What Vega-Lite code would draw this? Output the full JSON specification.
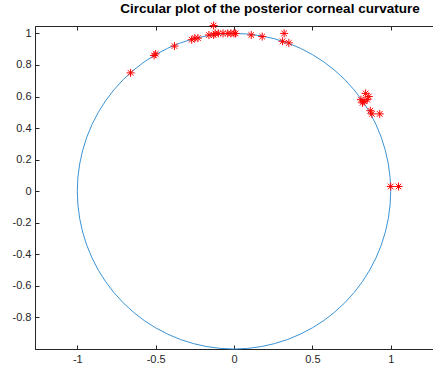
{
  "$schema": "https://vega.github.io/schema/vega-lite/v6.json",
  "autosize": {"type": "none"},
  "padding": {"left": 35, "top": 26, "right": 0, "bottom": 21},
  "width": 398,
  "height": 323,
  "background": "white",
  "title": {
    "text": "Circular plot of the posterior corneal curvature",
    "font": "Liberation Sans",
    "fontSize": 13.5,
    "fontWeight": "bold",
    "color": "#000000",
    "anchor": "middle",
    "dx": 36,
    "offset": 4
  },
  "config": {
    "view": {"stroke": "#262626", "strokeWidth": 1},
    "axis": {
      "labelFont": "Liberation Sans",
      "labelFontSize": 11,
      "labelColor": "#262626",
      "domainColor": "#262626",
      "tickColor": "#262626",
      "labelOverlap": false,
      "labelFlush": false,
      "grid": false,
      "title": null
    }
  },
  "datasets": {
    "circle": [
      {"i": 0, "x": 1, "y": 0}, {"i": 1, "x": 0.9962, "y": 0.0872}, {"i": 2, "x": 0.9848, "y": 0.1736},
      {"i": 3, "x": 0.9659, "y": 0.2588}, {"i": 4, "x": 0.9397, "y": 0.342}, {"i": 5, "x": 0.9063, "y": 0.4226},
      {"i": 6, "x": 0.866, "y": 0.5}, {"i": 7, "x": 0.8192, "y": 0.5736}, {"i": 8, "x": 0.766, "y": 0.6428},
      {"i": 9, "x": 0.7071, "y": 0.7071}, {"i": 10, "x": 0.6428, "y": 0.766}, {"i": 11, "x": 0.5736, "y": 0.8192},
      {"i": 12, "x": 0.5, "y": 0.866}, {"i": 13, "x": 0.4226, "y": 0.9063}, {"i": 14, "x": 0.342, "y": 0.9397},
      {"i": 15, "x": 0.2588, "y": 0.9659}, {"i": 16, "x": 0.1736, "y": 0.9848}, {"i": 17, "x": 0.0872, "y": 0.9962},
      {"i": 18, "x": 0, "y": 1}, {"i": 19, "x": -0.0872, "y": 0.9962}, {"i": 20, "x": -0.1736, "y": 0.9848},
      {"i": 21, "x": -0.2588, "y": 0.9659}, {"i": 22, "x": -0.342, "y": 0.9397}, {"i": 23, "x": -0.4226, "y": 0.9063},
      {"i": 24, "x": -0.5, "y": 0.866}, {"i": 25, "x": -0.5736, "y": 0.8192}, {"i": 26, "x": -0.6428, "y": 0.766},
      {"i": 27, "x": -0.7071, "y": 0.7071}, {"i": 28, "x": -0.766, "y": 0.6428}, {"i": 29, "x": -0.8192, "y": 0.5736},
      {"i": 30, "x": -0.866, "y": 0.5}, {"i": 31, "x": -0.9063, "y": 0.4226}, {"i": 32, "x": -0.9397, "y": 0.342},
      {"i": 33, "x": -0.9659, "y": 0.2588}, {"i": 34, "x": -0.9848, "y": 0.1736}, {"i": 35, "x": -0.9962, "y": 0.0872},
      {"i": 36, "x": -1, "y": 0}, {"i": 37, "x": -0.9962, "y": -0.0872}, {"i": 38, "x": -0.9848, "y": -0.1736},
      {"i": 39, "x": -0.9659, "y": -0.2588}, {"i": 40, "x": -0.9397, "y": -0.342}, {"i": 41, "x": -0.9063, "y": -0.4226},
      {"i": 42, "x": -0.866, "y": -0.5}, {"i": 43, "x": -0.8192, "y": -0.5736}, {"i": 44, "x": -0.766, "y": -0.6428},
      {"i": 45, "x": -0.7071, "y": -0.7071}, {"i": 46, "x": -0.6428, "y": -0.766}, {"i": 47, "x": -0.5736, "y": -0.8192},
      {"i": 48, "x": -0.5, "y": -0.866}, {"i": 49, "x": -0.4226, "y": -0.9063}, {"i": 50, "x": -0.342, "y": -0.9397},
      {"i": 51, "x": -0.2588, "y": -0.9659}, {"i": 52, "x": -0.1736, "y": -0.9848}, {"i": 53, "x": -0.0872, "y": -0.9962},
      {"i": 54, "x": 0, "y": -1}, {"i": 55, "x": 0.0872, "y": -0.9962}, {"i": 56, "x": 0.1736, "y": -0.9848},
      {"i": 57, "x": 0.2588, "y": -0.9659}, {"i": 58, "x": 0.342, "y": -0.9397}, {"i": 59, "x": 0.4226, "y": -0.9063},
      {"i": 60, "x": 0.5, "y": -0.866}, {"i": 61, "x": 0.5736, "y": -0.8192}, {"i": 62, "x": 0.6428, "y": -0.766},
      {"i": 63, "x": 0.7071, "y": -0.7071}, {"i": 64, "x": 0.766, "y": -0.6428}, {"i": 65, "x": 0.8192, "y": -0.5736},
      {"i": 66, "x": 0.866, "y": -0.5}, {"i": 67, "x": 0.9063, "y": -0.4226}, {"i": 68, "x": 0.9397, "y": -0.342},
      {"i": 69, "x": 0.9659, "y": -0.2588}, {"i": 70, "x": 0.9848, "y": -0.1736}, {"i": 71, "x": 0.9962, "y": -0.0872},
      {"i": 72, "x": 1, "y": 0}
    ],
    "points": [
      {"x": -0.66, "y": 0.75}, {"x": -0.51, "y": 0.86}, {"x": -0.50, "y": 0.87}, {"x": -0.38, "y": 0.92},
      {"x": -0.27, "y": 0.96}, {"x": -0.25, "y": 0.97}, {"x": -0.23, "y": 0.97}, {"x": -0.16, "y": 0.99},
      {"x": -0.13, "y": 0.99}, {"x": -0.12, "y": 1.00}, {"x": -0.13, "y": 1.05}, {"x": -0.10, "y": 1.00},
      {"x": -0.07, "y": 1.00}, {"x": -0.04, "y": 1.00}, {"x": -0.02, "y": 1.00}, {"x": 0.00, "y": 1.00},
      {"x": 0.01, "y": 1.00}, {"x": 0.11, "y": 0.99}, {"x": 0.18, "y": 0.98}, {"x": 0.32, "y": 1.00},
      {"x": 0.31, "y": 0.95}, {"x": 0.35, "y": 0.94}, {"x": 0.81, "y": 0.58}, {"x": 0.82, "y": 0.56},
      {"x": 0.83, "y": 0.57}, {"x": 0.84, "y": 0.62}, {"x": 0.86, "y": 0.60}, {"x": 0.85, "y": 0.58},
      {"x": 0.87, "y": 0.51}, {"x": 0.88, "y": 0.49}, {"x": 0.93, "y": 0.49}, {"x": 1.00, "y": 0.03},
      {"x": 1.05, "y": 0.03}
    ]
  },
  "layer": [
    {
      "data": {"name": "circle"},
      "mark": {"type": "line", "color": "#3a93d6", "strokeWidth": 1, "clip": false},
      "encoding": {
        "x": {
          "field": "x", "type": "quantitative",
          "scale": {"domain": [-1.27, 1.27], "nice": false, "zero": false},
          "axis": {"orient": "bottom", "values": [-1, -0.5, 0, 0.5, 1], "tickCount": 20, "labelExpr": "'' + datum.value", "labelOverlap": false, "tickSize": -4, "labelPadding": 8}
        },
        "y": {
          "field": "y", "type": "quantitative",
          "scale": {"domain": [-1, 1.047], "nice": false, "zero": false},
          "axis": {"orient": "left", "values": [-0.8, -0.6, -0.4, -0.2, 0, 0.2, 0.4, 0.6, 0.8, 1], "tickCount": 20, "labelExpr": "'' + datum.value", "labelOverlap": false, "tickSize": -4, "labelPadding": 8}
        },
        "order": {"field": "i", "type": "quantitative"}
      }
    },
    {
      "data": {"name": "points"},
      "mark": {
        "type": "point",
        "shape": "M-1,0L1,0M0,-1L0,1M-0.7,-0.7L0.7,0.7M-0.7,0.7L0.7,-0.7",
        "filled": false,
        "color": "#FF0000",
        "strokeWidth": 1,
        "size": 64,
        "opacity": 1,
        "clip": false
      },
      "encoding": {
        "x": {
          "field": "x", "type": "quantitative",
          "axis": {"orient": "top", "values": [-1, -0.5, 0, 0.5, 1], "tickCount": 20, "labels": false, "domain": false, "tickSize": 4, "offset": -4}
        },
        "y": {"field": "y", "type": "quantitative", "axis": {"labelOverlap": false, "tickCount": 20}}
      }
    }
  ],
  "resolve": {"axis": {"x": "independent"}}
}
